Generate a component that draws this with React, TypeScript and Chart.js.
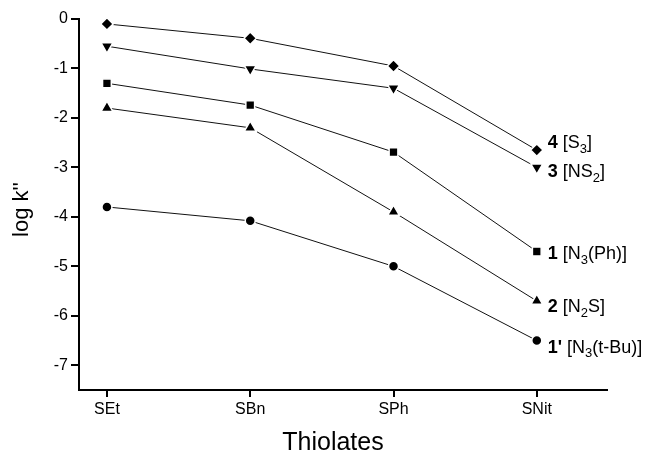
import React, { useEffect, useRef } from "react";
import { Chart, registerables } from "chart.js";

Chart.register(...registerables);

const categories = ["SEt", "SBn", "SPh", "SNit"];
const yTicks = [0, -1, -2, -3, -4, -5, -6, -7];
const xTitle = "Thiolates";
const yTitle = "log k''";

const series4 = [-0.1, -0.39, -0.95, -2.65];
const series3 = [-0.55, -1.01, -1.4, -3.0];
const series1 = [-1.3, -1.74, -2.69, -4.7];
const series2 = [-1.8, -2.2, -3.9, -5.7];
const series1p = [-3.8, -4.08, -5.0, -6.5];

const seriesValues = [series4, series3, series1, series2, series1p];
const seriesNumbers = ["4", "3", "1", "2", "1'"];
// "_x" marks a subscript character
const seriesFormulas = ["[S_3]", "[NS_2]", "[N_3(Ph)]", "[N_2S]", "[N_3(t-Bu)]"];
const seriesMarkers = ["rectRot", "triangle", "rect", "triangle", "circle"];
const markerRotation = [0, 180, 0, 0, 0];
const markerRadius = [6.2, 6.8, 6.2, 6.8, 5];
const labelDy = [-7, 5, 3, 6, 7];

const FONT = "'Liberation Sans', Arial, Helvetica, sans-serif";

const endLabelPlugin = {
  id: "endLabels",
  afterDatasetsDraw(chart: any) {
    const ctx = chart.ctx;
    const xs = chart.scales.x;
    const ys = chart.scales.y;
    const area = chart.chartArea;
    ctx.save();
    ctx.fillStyle = "#000";
    ctx.textBaseline = "middle";
    ctx.textAlign = "left";
    seriesValues.forEach((vals, i) => {
      const last = vals.length - 1;
      let x = xs.getPixelForValue(last) + 11;
      const y = ys.getPixelForValue(vals[last]) + labelDy[i];
      ctx.font = `bold 18px ${FONT}`;
      ctx.fillText(seriesNumbers[i], x, y);
      x += ctx.measureText(seriesNumbers[i]).width;
      ctx.font = `18px ${FONT}`;
      ctx.fillText(" ", x, y);
      x += ctx.measureText(" ").width;
      const f = seriesFormulas[i];
      let k = 0;
      while (k < f.length) {
        if (f[k] === "_") {
          const c = f[k + 1];
          ctx.font = `13px ${FONT}`;
          ctx.fillText(c, x, y + 6);
          x += ctx.measureText(c).width;
          k += 2;
        } else {
          let j = k;
          while (j < f.length && f[j] !== "_") j++;
          const s = f.slice(k, j);
          ctx.font = `18px ${FONT}`;
          ctx.fillText(s, x, y);
          x += ctx.measureText(s).width;
          k = j;
        }
      }
    });

    // axis titles
    ctx.textAlign = "center";
    ctx.font = `25px ${FONT}`;
    ctx.textBaseline = "alphabetic";
    ctx.fillText(xTitle, (area.left + area.right) / 2 - 10, 450);

    ctx.save();
    ctx.translate(22, (area.top + area.bottom) / 2 + 5);
    ctx.rotate(-Math.PI / 2);
    ctx.font = `22px ${FONT}`;
    ctx.textBaseline = "middle";
    ctx.fillText(yTitle, 0, 0);
    ctx.restore();

    ctx.restore();
  },
};

export default function App() {
  const ref = useRef<HTMLCanvasElement | null>(null);

  useEffect(() => {
    if (!ref.current) return;
    const chart = new Chart(ref.current, {
      type: "line",
      data: {
        datasets: seriesValues.map((vals, i) => ({
          label: seriesNumbers[i] + " " + seriesFormulas[i],
          data: vals.map((v, j) => ({ x: j, y: v })),
          borderColor: "#111",
          borderWidth: 1,
          backgroundColor: "#000",
          pointBackgroundColor: "#000",
          pointBorderColor: "#fff",
          pointBorderWidth: 1.5,
          pointStyle: seriesMarkers[i] as any,
          pointRotation: markerRotation[i],
          pointRadius: markerRadius[i],
          tension: 0,
          clip: false as any,
        })),
      },
      options: {
        responsive: false,
        animation: false,
        events: [],
        layout: { padding: { top: 19, right: 47, left: 0, bottom: 0 } },
        plugins: {
          legend: { display: false },
          tooltip: { enabled: false },
        },
        scales: {
          x: {
            type: "linear",
            min: -0.195,
            max: 3.49,
            afterBuildTicks: (scale: any) => {
              scale.ticks = categories.map((_, i) => ({ value: i }));
            },
            afterFit: (scale: any) => {
              scale.height = 62;
            },
            ticks: {
              color: "#000",
              font: { family: FONT, size: 16 },
              padding: 3,
              maxRotation: 0,
              autoSkip: false,
              callback: (v: any) => categories[v as number] ?? "",
            },
            grid: {
              display: true,
              drawOnChartArea: false,
              drawTicks: true,
              tickLength: 7,
              color: "#000",
              lineWidth: 2,
            },
            border: { display: true, color: "#000", width: 2 },
          },
          y: {
            type: "linear",
            min: -7.5,
            max: 0,
            afterBuildTicks: (scale: any) => {
              scale.ticks = yTicks.map((v) => ({ value: v }));
            },
            afterFit: (scale: any) => {
              scale.width = 79;
            },
            ticks: {
              color: "#000",
              font: { family: FONT, size: 16 },
              padding: 3,
              callback: (v: any) => String(v),
            },
            grid: {
              display: true,
              drawOnChartArea: false,
              drawTicks: true,
              tickLength: 8,
              color: "#000",
              lineWidth: 2,
            },
            border: { display: true, color: "#000", width: 2 },
          },
        },
      },
      plugins: [endLabelPlugin],
    });
    return () => chart.destroy();
  }, []);

  return (
    <div style={{ position: "absolute", left: 0, top: 0, width: 654, height: 452, background: "#fff" }}>
      <canvas ref={ref} width={654} height={452} />
    </div>
  );
}
